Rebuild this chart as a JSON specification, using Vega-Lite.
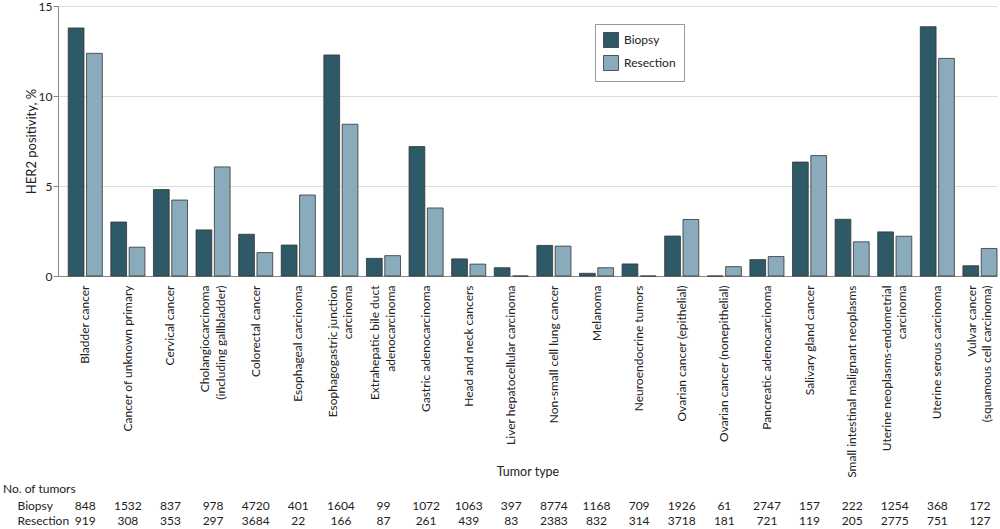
{
  "$schema": "https://vega.github.io/schema/vega-lite/v6.json",
  "padding": {"left": 3, "top": 0, "right": 3, "bottom": 0},
  "background": "white",
  "bounds": "flush",
  "spacing": 222,
  "config": {
    "view": {"stroke": null},
    "font": "Lato",
    "axis": {"labelFont": "Lato", "titleFont": "Lato", "labelColor": "#222222", "titleColor": "#222222"},
    "legend": {"labelFont": "Lato", "labelColor": "#222222"},
    "title": {"font": "Lato", "color": "#222222"}
  },
  "datasets": {
    "her2": [
      {"tumor": "Bladder cancer", "type": "Biopsy", "value": 13.78, "n": 848},
      {"tumor": "Bladder cancer", "type": "Resection", "value": 12.37, "n": 919},
      {"tumor": "Cancer of unknown primary", "type": "Biopsy", "value": 3.0, "n": 1532},
      {"tumor": "Cancer of unknown primary", "type": "Resection", "value": 1.6, "n": 308},
      {"tumor": "Cervical cancer", "type": "Biopsy", "value": 4.8, "n": 837},
      {"tumor": "Cervical cancer", "type": "Resection", "value": 4.22, "n": 353},
      {"tumor": "Cholangiocarcinoma (including gallbladder)", "type": "Biopsy", "value": 2.56, "n": 978},
      {"tumor": "Cholangiocarcinoma (including gallbladder)", "type": "Resection", "value": 6.06, "n": 297},
      {"tumor": "Colorectal cancer", "type": "Biopsy", "value": 2.32, "n": 4720},
      {"tumor": "Colorectal cancer", "type": "Resection", "value": 1.3, "n": 3684},
      {"tumor": "Esophageal carcinoma", "type": "Biopsy", "value": 1.72, "n": 401},
      {"tumor": "Esophageal carcinoma", "type": "Resection", "value": 4.5, "n": 22},
      {"tumor": "Esophagogastric junction carcinoma", "type": "Biopsy", "value": 12.28, "n": 1604},
      {"tumor": "Esophagogastric junction carcinoma", "type": "Resection", "value": 8.43, "n": 166},
      {"tumor": "Extrahepatic bile duct adenocarcinoma", "type": "Biopsy", "value": 0.98, "n": 99},
      {"tumor": "Extrahepatic bile duct adenocarcinoma", "type": "Resection", "value": 1.13, "n": 87},
      {"tumor": "Gastric adenocarcinoma", "type": "Biopsy", "value": 7.19, "n": 1072},
      {"tumor": "Gastric adenocarcinoma", "type": "Resection", "value": 3.78, "n": 261},
      {"tumor": "Head and neck cancers", "type": "Biopsy", "value": 0.95, "n": 1063},
      {"tumor": "Head and neck cancers", "type": "Resection", "value": 0.66, "n": 439},
      {"tumor": "Liver hepatocellular carcinoma", "type": "Biopsy", "value": 0.46, "n": 397},
      {"tumor": "Liver hepatocellular carcinoma", "type": "Resection", "value": 0, "n": 83},
      {"tumor": "Non-small cell lung cancer", "type": "Biopsy", "value": 1.7, "n": 8774},
      {"tumor": "Non-small cell lung cancer", "type": "Resection", "value": 1.66, "n": 2383},
      {"tumor": "Melanoma", "type": "Biopsy", "value": 0.15, "n": 1168},
      {"tumor": "Melanoma", "type": "Resection", "value": 0.46, "n": 832},
      {"tumor": "Neuroendocrine tumors", "type": "Biopsy", "value": 0.67, "n": 709},
      {"tumor": "Neuroendocrine tumors", "type": "Resection", "value": 0, "n": 314},
      {"tumor": "Ovarian cancer (epithelial)", "type": "Biopsy", "value": 2.22, "n": 1926},
      {"tumor": "Ovarian cancer (epithelial)", "type": "Resection", "value": 3.14, "n": 3718},
      {"tumor": "Ovarian cancer (nonepithelial)", "type": "Biopsy", "value": 0, "n": 61},
      {"tumor": "Ovarian cancer (nonepithelial)", "type": "Resection", "value": 0.52, "n": 181},
      {"tumor": "Pancreatic adenocarcinoma", "type": "Biopsy", "value": 0.91, "n": 2747},
      {"tumor": "Pancreatic adenocarcinoma", "type": "Resection", "value": 1.08, "n": 721},
      {"tumor": "Salivary gland cancer", "type": "Biopsy", "value": 6.33, "n": 157},
      {"tumor": "Salivary gland cancer", "type": "Resection", "value": 6.69, "n": 119},
      {"tumor": "Small intestinal malignant neoplasms", "type": "Biopsy", "value": 3.15, "n": 222},
      {"tumor": "Small intestinal malignant neoplasms", "type": "Resection", "value": 1.9, "n": 205},
      {"tumor": "Uterine neoplasms-endometrial carcinoma", "type": "Biopsy", "value": 2.45, "n": 1254},
      {"tumor": "Uterine neoplasms-endometrial carcinoma", "type": "Resection", "value": 2.21, "n": 2775},
      {"tumor": "Uterine serous carcinoma", "type": "Biopsy", "value": 13.85, "n": 368},
      {"tumor": "Uterine serous carcinoma", "type": "Resection", "value": 12.09, "n": 751},
      {"tumor": "Vulvar cancer (squamous cell carcinoma)", "type": "Biopsy", "value": 0.57, "n": 172},
      {"tumor": "Vulvar cancer (squamous cell carcinoma)", "type": "Resection", "value": 1.53, "n": 127}
    ]
  },
  "vconcat": [
    {
      "width": 939,
      "height": 270,
      "data": {"name": "her2"},
      "mark": {"type": "bar", "stroke": "#333333", "strokeWidth": 0.8},
      "encoding": {
        "x": {
          "field": "tumor", "type": "nominal", "sort": null,
          "scale": {"type": "band", "paddingInner": 0.2, "paddingOuter": 0.12, "align": 1},
          "axis": {
            "title": "Tumor type", "labelAngle": -90, "labelAlign": "right", "labelBaseline": "middle",
            "ticks": false, "labelPadding": 9, "labelFontSize": 12, "labelLineHeight": 15.5, "labelLimit": 0,
            "labelExpr": "datum.label == 'Cholangiocarcinoma (including gallbladder)' ? ['Cholangiocarcinoma', '(including gallbladder)'] : datum.label == 'Esophagogastric junction carcinoma' ? ['Esophagogastric junction', 'carcinoma'] : datum.label == 'Extrahepatic bile duct adenocarcinoma' ? ['Extrahepatic bile duct', 'adenocarcinoma'] : datum.label == 'Uterine neoplasms-endometrial carcinoma' ? ['Uterine neoplasms-endometrial', 'carcinoma'] : datum.label == 'Vulvar cancer (squamous cell carcinoma)' ? ['Vulvar cancer', '(squamous cell carcinoma)'] : datum.label",
            "labelOffset": {
              "condition": {
                "test": "indexof(['Cholangiocarcinoma (including gallbladder)', 'Esophagogastric junction carcinoma', 'Extrahepatic bile duct adenocarcinoma', 'Uterine neoplasms-endometrial carcinoma', 'Vulvar cancer (squamous cell carcinoma)'], datum.label) >= 0",
                "value": -8
              },
              "value": 0
            },
            "titleFontSize": 12.5, "titleFontWeight": "normal", "titleY": 195, "titleBaseline": "middle",
            "domainColor": "#888888"
          }
        },
        "xOffset": {
          "field": "type", "type": "nominal", "sort": ["Biopsy", "Resection"],
          "scale": {"paddingInner": 0.14, "paddingOuter": 0}
        },
        "y": {
          "field": "value", "type": "quantitative",
          "scale": {"domain": [0, 15]},
          "axis": {
            "title": "HER2 positivity, %", "values": [0, 5, 10, 15], "grid": true, "gridColor": "#dddddd",
            "tickSize": 5, "tickColor": "#888888", "domainColor": "#888888", "labelFontSize": 12,
            "labelPadding": 1, "titleFontSize": 13, "titleFontWeight": "normal", "titlePadding": 0
          }
        },
        "color": {
          "field": "type", "type": "nominal",
          "scale": {"domain": ["Biopsy", "Resection"], "range": ["#2e5a68", "#8aabbb"]},
          "legend": {
            "title": null, "orient": "none", "legendX": 537, "legendY": 18,
            "symbolType": "square", "symbolSize": 225, "labelFontSize": 12,
            "strokeColor": "#999999", "fillColor": "white", "padding": 8, "rowPadding": 3, "labelOffset": 5,
            "symbolStrokeColor": "#333333", "symbolStrokeWidth": 0.8
          }
        }
      }
    },
    {
      "width": 939,
      "height": 30,
      "data": {"name": "her2"},
      "title": {"text": "No. of tumors", "anchor": "start", "frame": "group", "dx": -55, "offset": 2, "fontSize": 12, "fontWeight": "normal"},
      "mark": {"type": "text", "fontSize": 12, "color": "#222222"},
      "encoding": {
        "x": {
          "field": "tumor", "type": "nominal", "sort": null,
          "scale": {"type": "band", "paddingInner": 0.2, "paddingOuter": 0.12, "align": 1},
          "axis": null
        },
        "y": {
          "field": "type", "type": "nominal", "sort": ["Biopsy", "Resection"],
          "axis": {"title": null, "domain": false, "ticks": false, "grid": false, "labelAlign": "left", "labelPadding": 41, "labelFontSize": 12}
        },
        "text": {"field": "n", "type": "quantitative", "format": "d"}
      }
    }
  ]
}
